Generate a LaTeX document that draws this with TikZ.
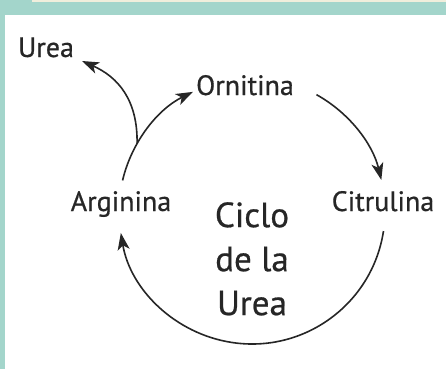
\documentclass[tikz,border=0pt]{standalone}
\usepackage{fontspec}
\setmainfont[FakeBold=0.6]{PT Sans}
\usetikzlibrary{arrows.meta,calc}
\definecolor{bordteal}{HTML}{A3D5CB}
\definecolor{cream}{HTML}{F0EEDC}
\tikzset{
  lbl/.style={font=\fontsize{28}{32}\selectfont, text=black!85, inner sep=0pt, anchor=base},
  big/.style={font=\fontsize{35}{44}\selectfont, text=black!85, inner sep=0pt, align=center, anchor=north},
  flow/.style={line width=1.6pt, draw=black!85, -{Stealth[length=17pt,width=12pt,inset=4.5pt]}},
}
\begin{document}
\begin{tikzpicture}[x=1pt,y=-1pt]
\useasboundingbox (0,0) rectangle (446,369);
\fill[bordteal] (0,0) rectangle (446,369);
\fill[cream] (32,0) rectangle (446,2);
\fill[white] (5,15) rectangle (446,369);
% labels
\node[lbl] (urea) at (46,57) {Urea};
\node[lbl] (orn) at (245,95) {Ornitina};
\node[lbl] (cit) at (383,211) {Citrulina};
\node[lbl] (arg) at (121,211) {Arginina};
\node[big] (ciclo) at (252,202) {Ciclo\\de la\\Urea};
% cycle: centre (252,211), radius 133 (screen angles, clockwise)
\coordinate (c) at (252,211);
\coordinate (oStart) at ($(c)+(-61:133)$);
\coordinate (cStart) at ($(c)+(8.7:133)$);
\coordinate (aStart) at ($(c)+(-166.7:133)$);
\coordinate (branch) at ($(c)+(-149.8:133)$);
\coordinate (ureaTip) at (82,61);
\draw[flow] (oStart) arc[start angle=-61, end angle=-13.5, radius=133];
\draw[flow] (cStart) arc[start angle=8.7, end angle=170.5, radius=133];
\draw[flow] (aStart) arc[start angle=-166.7, end angle=-116.4, radius=133];
\draw[flow] (branch) .. controls (138,100) and (118,77) .. (ureaTip);
\end{tikzpicture}
\end{document}
